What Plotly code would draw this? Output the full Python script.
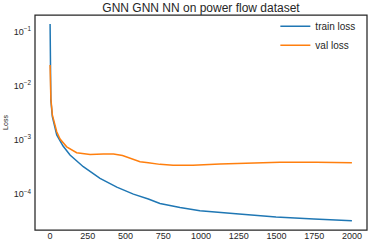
import plotly.graph_objects as go

# epochs sampled along the curves
train_epochs = [0, 1, 5, 15, 44, 86, 132, 220, 331, 442, 552, 651, 728, 861, 993, 1252, 1497, 1748, 2000]
train_loss = [0.137, 0.02, 5.46e-3, 2.69e-3, 1.24e-3, 7.76e-4, 5.3e-4, 3.22e-4, 1.97e-4, 1.36e-4,
              1.01e-4, 8.2e-5, 6.8e-5, 5.7e-5, 5.0e-5, 4.34e-5, 3.82e-5, 3.51e-5, 3.27e-5]

val_epochs = [0, 5, 15, 44, 66, 110, 176, 265, 353, 420, 480, 530, 596, 651, 728, 815, 947, 1126, 1258, 1523, 1766, 2000]
val_loss = [0.024, 5.8e-3, 2.9e-3, 1.42e-3, 1.04e-3, 7.5e-4, 5.83e-4, 5.42e-4, 5.5e-4, 5.5e-4, 5.2e-4,
            4.6e-4, 3.98e-4, 3.82e-4, 3.56e-4, 3.42e-4, 3.42e-4, 3.61e-4, 3.72e-4, 3.88e-4, 3.88e-4, 3.82e-4]

x_ticks = [0, 250, 500, 750, 1000, 1250, 1500, 1750, 2000]
y_ticks = [1e-4, 1e-3, 1e-2, 1e-1]
y_ticktext = ["10<sup>−4</sup>", "10<sup>−3</sup>", "10<sup>−2</sup>", "10<sup>−1</sup>"]

font = "Liberation Sans, Arial, sans-serif"

fig = go.Figure()
fig.add_trace(go.Scatter(x=train_epochs, y=train_loss, mode="lines", name="train loss",
                         line=dict(color="#1f77b4", width=1.5)))
fig.add_trace(go.Scatter(x=val_epochs, y=val_loss, mode="lines", name="val loss",
                         line=dict(color="#ff7f0e", width=1.5)))

fig.update_layout(
    width=370, height=242,
    margin=dict(l=35, r=3, t=15, b=12, autoexpand=False),
    paper_bgcolor="white", plot_bgcolor="white",
    font=dict(family=font, color="#262626", size=9),
    title=dict(text="GNN GNN NN on power flow dataset", x=0.5, xref="paper", xanchor="center",
               y=1, yref="paper", yanchor="bottom", pad=dict(b=3),
               font=dict(size=12, family=font, color="#262626")),
    showlegend=True,
    legend=dict(x=0.983, y=1.015, xanchor="right", yanchor="top",
                bgcolor="rgba(0,0,0,0)", borderwidth=0,
                font=dict(size=10, family=font, color="#262626"),
                tracegroupgap=0, itemwidth=30),
    shapes=[dict(type="rect", xref="paper", yref="paper", x0=0, x1=1, y0=0, y1=1,
                 line=dict(color="#262626", width=1.25), fillcolor="rgba(0,0,0,0)", layer="above")],
)
fig.update_xaxes(range=[-100, 2100], tickvals=x_ticks, ticks="", showgrid=False, zeroline=False,
                 showline=False, tickfont=dict(size=9), ticklabelstandoff=-1)
fig.update_yaxes(type="log", range=[-4.657, -0.698], tickvals=y_ticks, ticktext=y_ticktext,
                 ticks="", showgrid=False, zeroline=False, showline=False,
                 tickfont=dict(size=9), ticklabelstandoff=3,
                 title=dict(text="Loss", font=dict(size=7), standoff=4))

fig.write_html("out.html", config={"displayModeBar": False},
               post_script="document.body.style.margin='0';")
